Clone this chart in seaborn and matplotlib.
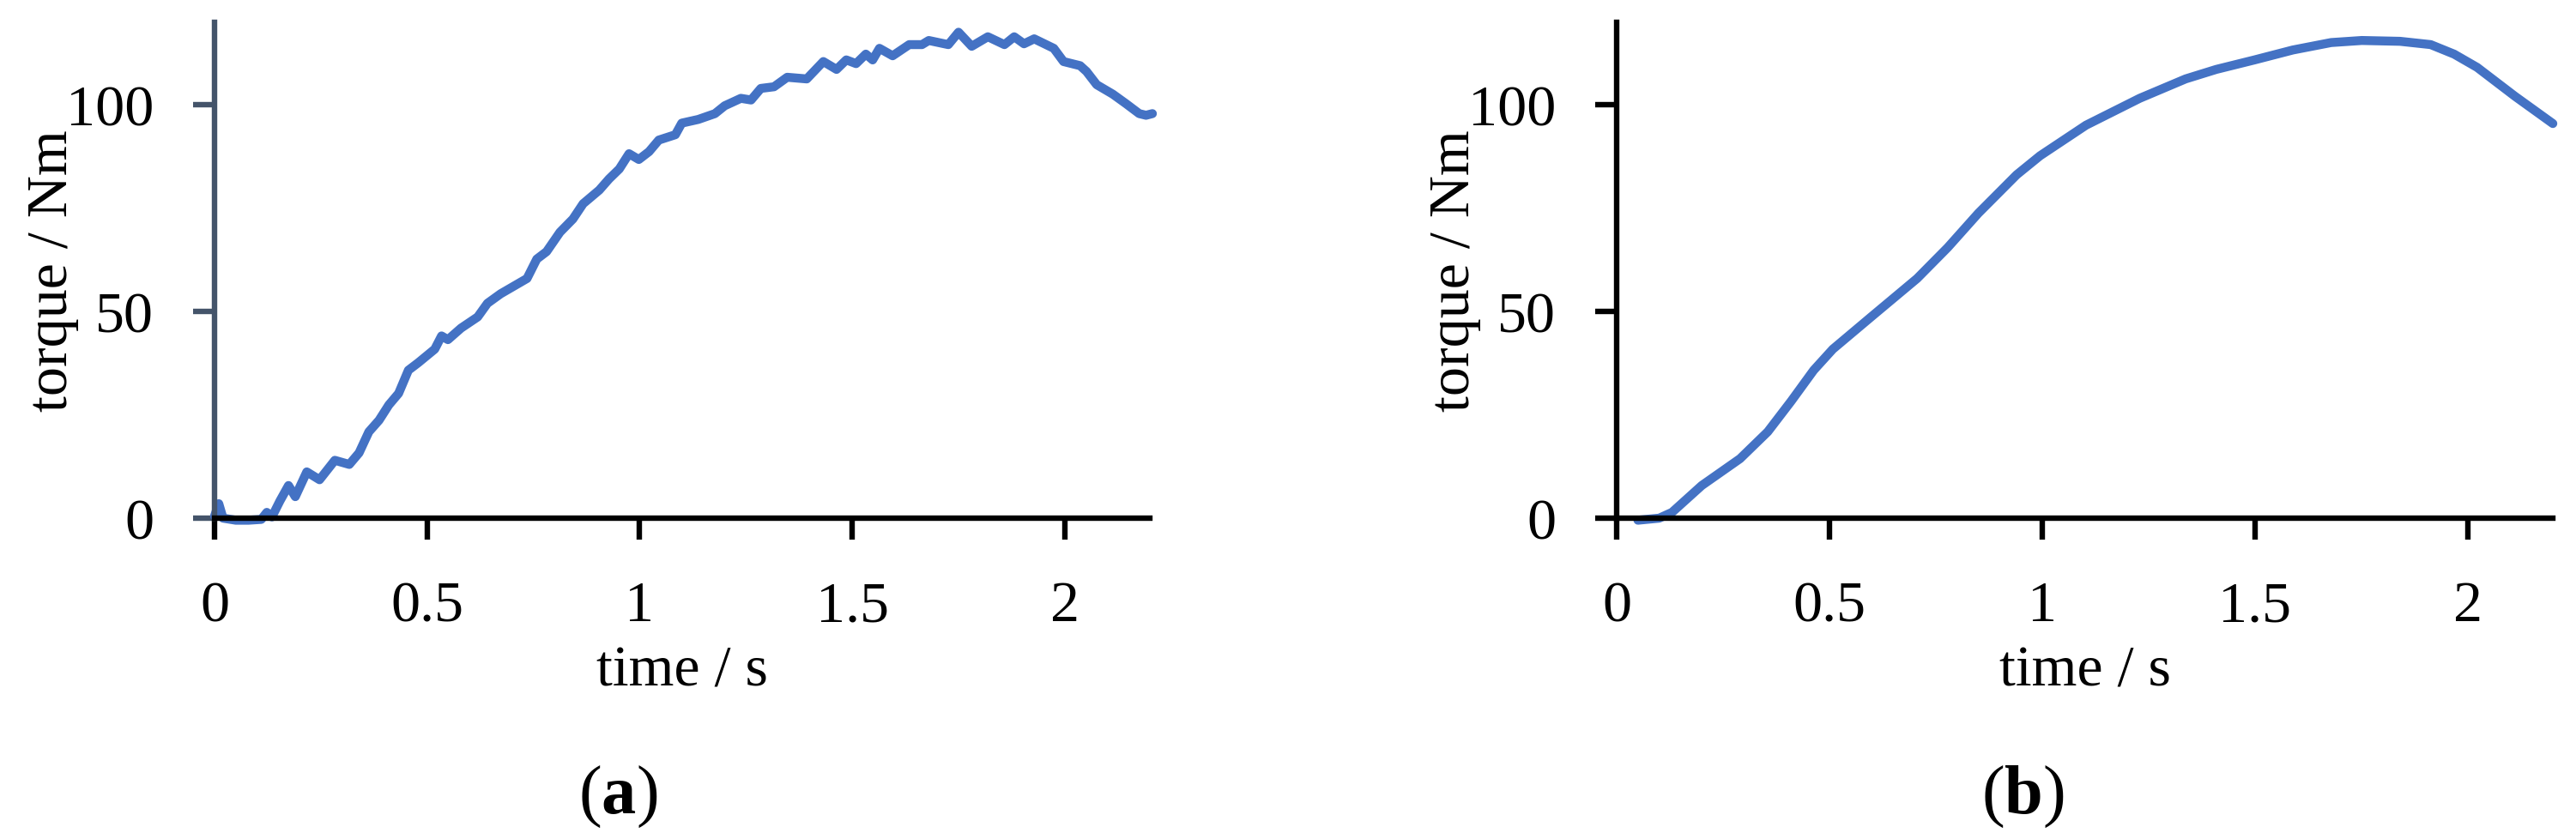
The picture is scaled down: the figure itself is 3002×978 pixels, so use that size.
import numpy as np
import pandas as pd
import matplotlib.pyplot as plt
import seaborn as sns


# (a) measured torque, noisy
time_a = [0.0, 0.01, 0.02, 0.05, 0.08, 0.11, 0.123, 0.135, 0.154, 0.174, 0.19,
          0.217, 0.247, 0.283, 0.317, 0.34, 0.363, 0.387, 0.41, 0.433, 0.456,
          0.479, 0.518, 0.534, 0.549, 0.58, 0.619, 0.642, 0.673, 0.735, 0.758,
          0.781, 0.8125, 0.843, 0.867, 0.905, 0.928, 0.952, 0.975, 0.998, 1.022,
          1.045, 1.084, 1.099, 1.138, 1.177, 1.2, 1.238, 1.262, 1.285, 1.316,
          1.347, 1.393, 1.432, 1.463, 1.486, 1.509, 1.532, 1.548, 1.564, 1.595,
          1.634, 1.664, 1.68, 1.726, 1.75, 1.781, 1.819, 1.858, 1.881, 1.904,
          1.928, 1.974, 1.997, 2.036, 2.051, 2.075, 2.113, 2.144, 2.175, 2.191,
          2.206]
torque_a = [0.5, 3.5, 0.0, -0.5, -0.5, -0.3, 1.4, 0.3, 4.2, 7.9, 5.2,
            11.2, 9.3, 14.0, 13.0, 15.8, 20.9, 23.7, 27.4, 30.2, 35.8,
            37.6, 40.9, 44.1, 43.2, 46.0, 48.7, 52.0, 54.3, 58.0, 62.7,
            64.5, 69.2, 72.4, 76.1, 79.4, 82.1, 84.5, 88.2, 86.8, 88.7,
            91.5, 92.8, 95.6, 96.5, 97.9, 99.8, 101.6, 101.2, 104.0, 104.4,
            106.7, 106.3, 110.5, 108.6, 110.9, 110.0, 112.3, 110.9, 113.7, 111.9,
            114.6, 114.6, 115.6, 114.6, 117.6, 114.2, 116.5, 114.6, 116.5, 114.8,
            116.0, 113.7, 110.5, 109.5, 108.1, 104.9, 102.6, 100.3, 97.9, 97.5,
            97.9]

# (b) smooth torque
time_b = [0.05, 0.1, 0.13, 0.2, 0.29, 0.355, 0.41, 0.463, 0.508, 0.598, 0.706,
          0.778, 0.85, 0.94, 0.995, 1.103, 1.229, 1.337, 1.409, 1.499, 1.589,
          1.679, 1.751, 1.841, 1.913, 1.968, 2.022, 2.111, 2.2]
torque_b = [-0.5, 0.0, 1.4, 7.9, 14.4, 20.9, 28.3, 35.8, 40.9, 48.7, 58.0,
            65.5, 73.8, 83.1, 87.7, 95.1, 101.6, 106.3, 108.6, 110.9, 113.3,
            115.1, 115.6, 115.4, 114.6, 112.3, 109.1, 102.1, 95.5]

x_ticks = [0, 0.5, 1, 1.5, 2]
x_ticklabels = ['0', '0.5', '1', '1.5', '2']
y_ticks = [0, 50, 100]
captions = ['a', 'b']

sns.set_theme(style='ticks')
plt.rcParams['font.family'] = ['Liberation Serif', 'DejaVu Serif']
plt.rcParams['mathtext.fontset'] = 'custom'
plt.rcParams['mathtext.rm'] = 'Liberation Serif'
plt.rcParams['mathtext.bf'] = 'Liberation Serif:bold'
plt.rcParams['text.color'] = 'black'
plt.rcParams['axes.labelcolor'] = 'black'

LINE = '#4472C4'
SPINE_A = '#44546A'
FS = 49
W, H = 3002, 979

fig = plt.figure(figsize=(W / 100, H / 100), dpi=100)
ax_a = fig.add_axes([250 / W, 1 - 605 / H, 1090 / W, 578 / H])
ax_b = fig.add_axes([1884 / W, 1 - 605 / H, 1091 / W, 578 / H])

frames = [
    pd.DataFrame({'time': time_a, 'torque': torque_a}),
    pd.DataFrame({'time': time_b, 'torque': torque_b}),
]

for ax, df in zip([ax_a, ax_b], frames):
    sns.lineplot(data=df, x='time', y='torque', ax=ax, color=LINE,
                 linewidth=7.5, estimator=None, clip_on=False)
    ax.set_xlim(0, 2.2)
    ax.set_ylim(0, 120)
    ax.set_xticks(x_ticks)
    ax.set_xticklabels(x_ticklabels)
    ax.set_yticks(y_ticks)
    sns.despine(ax=ax)
    for side in ['left', 'bottom']:
        ax.spines[side].set_linewidth(4.6)
        ax.spines[side].set_color('black')
    ax.tick_params(axis='both', length=18, width=4.6, labelsize=FS,
                   colors='black')
    ax.tick_params(axis='x', pad=34)
    ax.tick_params(axis='y', pad=33)
    ax.set_xlabel('time / s', fontsize=FS, labelpad=10)
    ax.set_ylabel('torque / Nm', fontsize=FS)
    ax.yaxis.set_label_coords(-0.145, 0.5)
    ax.grid(False)

# left panel y axis in slate colour
ax_a.spines['left'].set_color(SPINE_A)
ax_a.tick_params(axis='y', color=SPINE_A)

for cx, cap in zip([720, 2357], captions):
    fig.text(cx / W, 1 - 948 / H, r'($\mathbf{' + cap + '}$)',
             ha='center', va='baseline', fontsize=58)

fig.savefig('out.png', dpi=100)
